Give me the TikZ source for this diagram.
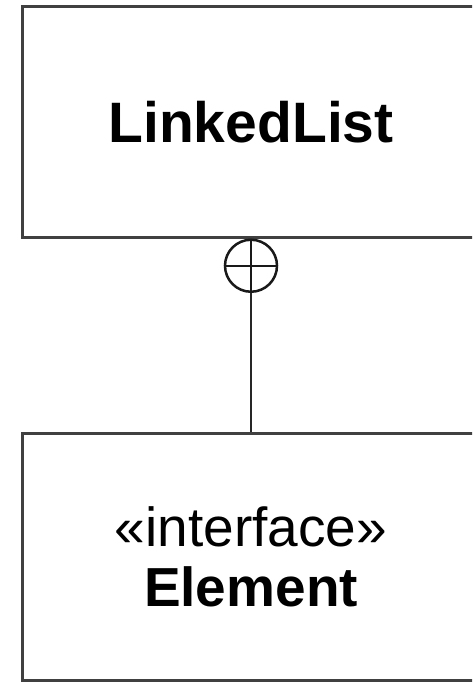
\documentclass[tikz,border=0pt]{standalone}
\usepackage{fontspec}
\setmainfont{Liberation Sans}
\usetikzlibrary{positioning}

\definecolor{boxgray}{RGB}{64,64,64}

\tikzset{
	classbox/.style={draw=boxgray, line width=3pt, rectangle,
		minimum width=458pt, inner sep=0pt, align=center},
	nestmark/.style={draw=black!90, circle, line width=2.5pt,
		minimum size=52pt, inner sep=0pt},
}

\begin{document}
\begin{tikzpicture}[x=1pt, y=1pt]
	\clip (0,0) rectangle (472,-682);

	\node[classbox, minimum height=230pt,
		font=\bfseries\fontsize{57}{66}\selectfont] (linkedlist) at (251,-122)
		{LinkedList};
	\node[classbox, minimum height=247pt,
		font=\fontsize{55}{60}\selectfont] (element) at (251,-556.5)
		{«interface»\\{\bfseries Element}};

	% nesting mark on the outer class
	\node[nestmark, below=0pt of linkedlist] (nest) {};
	\draw[line width=2.5pt, black!90] (nest.north) -- (nest.south)
		(nest.west) -- (nest.east);

	\draw[line width=2.5pt, black!85] (nest) -- (element);
\end{tikzpicture}
\end{document}
